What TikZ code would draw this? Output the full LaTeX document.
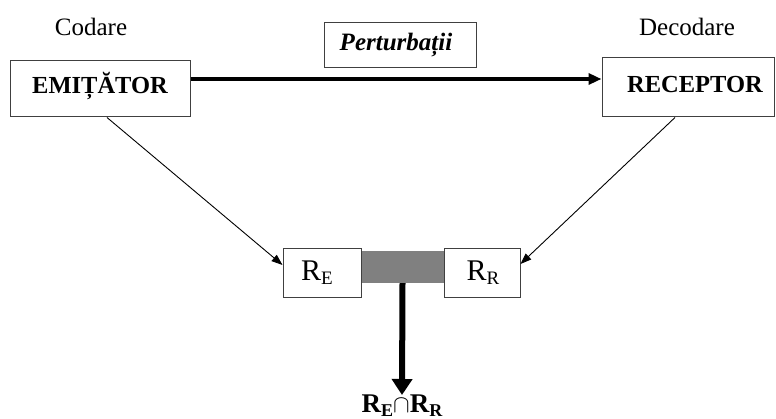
\documentclass[tikz,border=0pt]{standalone}
\usepackage{fontspec}
\setmainfont{Liberation Serif}
\usetikzlibrary{arrows.meta}
\begin{document}
\begin{tikzpicture}[x=1pt,y=-1pt,
  box/.style={draw=black!75,line width=1pt,fill=white,inner sep=0pt,anchor=center},
  lbl/.style={font=\fontsize{25}{28}\selectfont,inner sep=0pt},
  blbl/.style={font=\fontsize{24.5}{28}\selectfont\bfseries,inner sep=0pt},
  thinarrow/.style={line width=0.9pt,-{Triangle[length=11pt,width=8pt]}},
  thickarrow/.style={line width=3.8pt,-{Triangle[length=13pt,width=11pt]}},
  bigarrow/.style={line width=6pt,-{Triangle[length=16pt,width=20pt]}}]
\useasboundingbox (0,0) rectangle (776,419);
% top labels
\node[lbl] (cod) at (91,27) {Codare};
\node[lbl] (dec) at (687,27) {Decodare};
% main boxes
\node[box,minimum width=180pt,minimum height=56pt] (emit) at (100,89) {};
\node[blbl] (emitt) at (100,86) {EMIȚĂTOR};
\node[box,minimum width=172pt,minimum height=59pt] (rec) at (688,87.5) {};
\node[blbl] (rect) at (695,85) {RECEPTOR};
\node[box,minimum width=152pt,minimum height=45pt] (pert) at (400,45.5) {};
\node[font=\fontsize{25}{28}\selectfont\bfseries\itshape,inner sep=0pt] (pertt) at (396,45) {Perturbații};
% lower boxes
\node[draw=none,fill=black!50,minimum width=85pt,minimum height=32pt,inner sep=0pt] (gray) at (402.5,267) {};
\node[box,minimum width=78pt,minimum height=49pt] (RE) at (322,273.5) {};
\node[font=\fontsize{30}{32}\selectfont,inner sep=0pt] (REt) at (317,273) {R\raisebox{-4pt}{\fontsize{19}{20}\selectfont E}};
\node[box,minimum width=76pt,minimum height=49pt] (RR) at (482,273.5) {};
\node[font=\fontsize{30}{32}\selectfont,inner sep=0pt] (RRt) at (483,273) {R\raisebox{-4pt}{\fontsize{19}{20}\selectfont R}};
% result label
\node[font=\fontsize{27}{30}\selectfont\bfseries,inner sep=0pt,anchor=north] (res) at (402,395)
  {R\raisebox{-3.5pt}{\fontsize{18}{20}\selectfont E}$\cap$R\raisebox{-3.5pt}{\fontsize{18}{20}\selectfont R}};
% connectors
\draw[thickarrow] ([yshift=10pt]emit.east) -- ([yshift=10pt]emit.east -| rec.west);
\draw[thinarrow] ([xshift=7pt]emit.south) -- ([yshift=8.5pt]RE.west);
\draw[thinarrow] ([xshift=-13pt]rec.south) -- ([yshift=9.5pt]RR.east);
\draw[bigarrow] (gray.south) -- (res.north);
\end{tikzpicture}
\end{document}
